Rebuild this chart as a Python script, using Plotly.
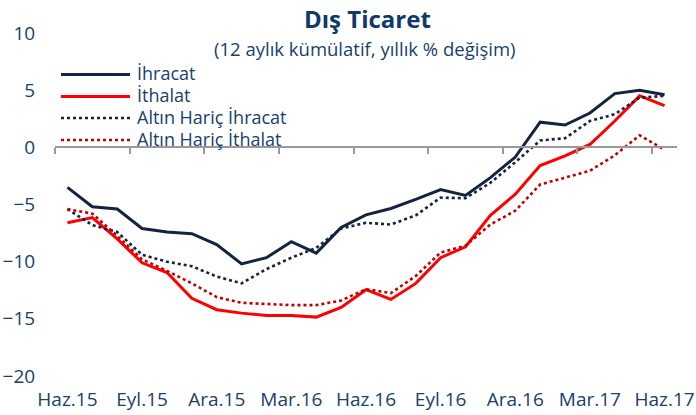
import plotly.graph_objects as go

months = ["Haz.15","Tem.15","Ağu.15","Eyl.15","Eki.15","Kas.15","Ara.15","Oca.16","Şub.16",
          "Mar.16","Nis.16","May.16","Haz.16","Tem.16","Ağu.16","Eyl.16","Eki.16","Kas.16",
          "Ara.16","Oca.17","Şub.17","Mar.17","Nis.17","May.17","Haz.17"]
tick_every = 3

ihracat = [-3.5, -5.2, -5.4, -7.1, -7.4, -7.55, -8.5, -10.2, -9.65, -8.25, -9.25, -7.0, -5.9,
           -5.35, -4.55, -3.7, -4.2, -2.65, -0.85, 2.2, 1.95, 3.0, 4.7, 5.0, 4.6]
ithalat = [-6.6, -6.15, -8.0, -10.1, -10.95, -13.2, -14.2, -14.5, -14.7, -14.7, -14.85, -14.0, -12.45,
           -13.3, -11.9, -9.65, -8.7, -5.95, -4.1, -1.6, -0.75, 0.25, 2.3, 4.5, 3.65]
altin_haric_ihracat = [-5.4, -6.8, -7.4, -9.4, -10.0, -10.4, -11.3, -11.9, -10.65, -9.65, -8.8, -7.1, -6.6,
                       -6.75, -5.95, -4.4, -4.45, -3.1, -1.3, 0.6, 0.8, 2.3, 2.9, 4.35, 4.5]
altin_haric_ithalat = [-5.4, -5.8, -7.75, -9.8, -10.8, -11.9, -13.1, -13.6, -13.7, -13.8, -13.8, -13.4, -12.4,
                       -12.75, -11.25, -9.2, -8.6, -6.75, -5.55, -3.25, -2.65, -2.05, -0.7, 1.05, -0.2]

NAVY = "#14233f"
RED = "#ff0000"
DRED = "#c00000"
TXT = "#17406d"
FONT = "Open Sans"
FS = 18

W, H = 696, 415
ML, MR, MT, MB = 55, W - 677, 33, H - 376
PW, PH = W - ML - MR, H - MT - MB


def px(x):  # x in window pixels -> paper
    return (x - ML) / PW


def py(y):  # y in window pixels -> paper
    return (H - MB - y) / PH


xs = list(range(len(months)))
fig = go.Figure()
series = [
    ("İhracat", ihracat, NAVY, "solid", 3),
    ("İthalat", ithalat, RED, "solid", 3),
    ("Altın Hariç İhracat", altin_haric_ihracat, NAVY, "dot", 2.6),
    ("Altın Hariç İthalat", altin_haric_ithalat, DRED, "dot", 2.6),
]
for name, vals, col, dash, w in series:
    fig.add_trace(go.Scatter(x=xs, y=vals, name=name, mode="lines",
                             line=dict(color=col, dash=dash, width=w), showlegend=False))

# dummy trace to activate overlay axis used for the category-boundary ticks at y=0
fig.add_trace(go.Scatter(x=[0], y=[None], xaxis="x2", showlegend=False, hoverinfo="skip"))

tickvals = xs[::tick_every]
ticktext = months[::tick_every]
boundary = [v - 0.5 for v in tickvals]

shapes = []
annotations = [
    dict(text="<b>Dış Ticaret</b>", x=px(367), y=py(19), xref="paper", yref="paper",
         xanchor="center", yanchor="middle", showarrow=False,
         font=dict(size=24, color="#0d3a69", family=FONT)),
    dict(text="(12 aylık kümülatif, yıllık % değişim)", x=px(364), y=py(48),
         xref="paper", yref="paper", xanchor="center", yanchor="middle",
         showarrow=False, font=dict(size=18.5, color=TXT, family=FONT)),
]
# legend (manual, tight spacing as in the reference)
leg_y = [74.5, 96.5, 118, 140]
for (name, vals, col, dash, w), ly in zip(series, leg_y):
    shapes.append(dict(type="line", xref="paper", yref="paper",
                       x0=px(61), x1=px(130), y0=py(ly), y1=py(ly),
                       line=dict(color=col, dash=dash, width=w)))
    annotations.append(dict(text=name, x=px(135), y=py(ly - 1.5), xref="paper", yref="paper",
                            xanchor="left", yanchor="middle", showarrow=False,
                            font=dict(size=FS, color=TXT, family=FONT)))

fig.update_layout(
    template="none",
    width=W, height=H,
    margin=dict(l=ML, r=MR, t=MT, b=MB, pad=0),
    paper_bgcolor="white", plot_bgcolor="white",
    font=dict(family=FONT, size=FS, color=TXT),
    showlegend=False,
    xaxis=dict(range=[-0.5, len(months) - 0.5], tickvals=tickvals, ticktext=ticktext,
               showgrid=False, zeroline=False, showline=False, automargin=False,
               ticks="outside", ticklen=6, tickcolor="rgba(0,0,0,0)",
               tickfont=dict(size=19, color=TXT)),
    xaxis2=dict(overlaying="x", anchor="free", position=2/3, automargin=False,
                range=[-0.5, len(months) - 0.5], tickvals=boundary,
                showticklabels=False, ticks="outside", ticklen=6, tickcolor="#999999",
                tickwidth=1.5,
                showline=True, linecolor="#999999", linewidth=1.5, showgrid=False,
                zeroline=False),
    yaxis=dict(range=[-20, 10], dtick=5, showgrid=False, zeroline=False, showline=False,
               automargin=False,
               ticks="outside", ticklen=15, tickcolor="rgba(0,0,0,0)",
               tickfont=dict(size=19, color=TXT)),
    shapes=shapes,
    annotations=annotations,
)

fig.write_html("out.html", config={"displayModeBar": False},
               post_script="document.body.style.margin='0';")
